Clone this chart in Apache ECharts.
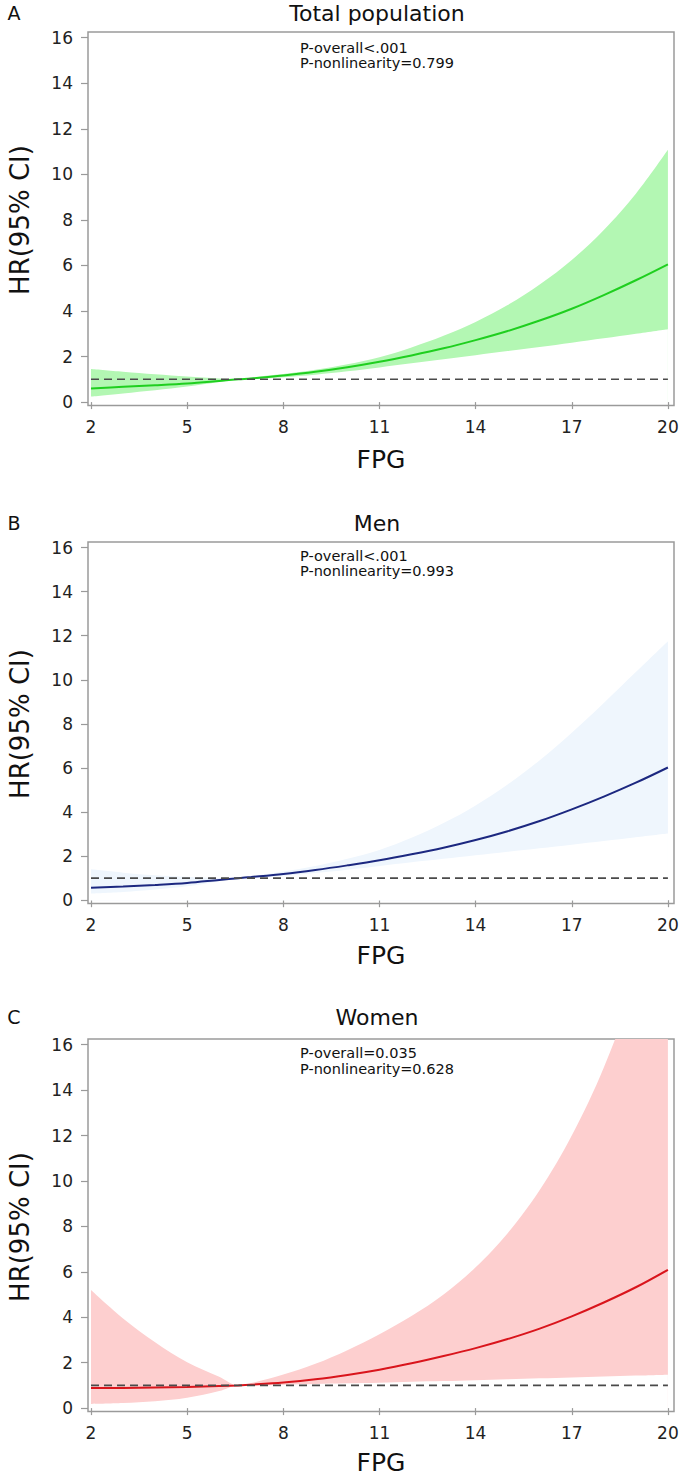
<!DOCTYPE html>
<html><head><meta charset="utf-8">
<script src="https://cdn.jsdelivr.net/npm/echarts@6/dist/echarts.min.js"></script>
<style>html,body{margin:0;padding:0;background:#fff}#c{width:685px;height:1479px}</style>
</head><body><div id="c"></div>
<script>
// ---- data ----
const fpg = [2, 3, 4, 5, 6, 6.6, 7, 8, 9, 10, 11, 12, 13, 14, 15, 16, 17, 18, 19, 20];

const hrTotal = [0.60, 0.67, 0.74, 0.82, 0.93, 1.00, 1.04, 1.17, 1.33, 1.53, 1.77, 2.05, 2.36, 2.72, 3.12, 3.58, 4.10, 4.70, 5.35, 6.05];
const loTotal = [0.24, 0.38, 0.52, 0.68, 0.88, 1.00, 1.01, 1.09, 1.20, 1.35, 1.52, 1.70, 1.88, 2.06, 2.24, 2.42, 2.61, 2.80, 3.00, 3.20];
const hiTotal = [1.45, 1.33, 1.22, 1.12, 1.04, 1.00, 1.08, 1.23, 1.42, 1.66, 1.97, 2.40, 2.91, 3.52, 4.26, 5.16, 6.24, 7.56, 9.15, 11.08];

const hrMen = [0.56, 0.62, 0.69, 0.78, 0.92, 1.00, 1.05, 1.19, 1.37, 1.58, 1.81, 2.08, 2.38, 2.73, 3.13, 3.59, 4.12, 4.70, 5.33, 6.02];
const loMen = [0.30, 0.37, 0.48, 0.63, 0.86, 1.00, 1.02, 1.10, 1.23, 1.38, 1.55, 1.72, 1.88, 2.04, 2.20, 2.36, 2.52, 2.68, 2.85, 3.02];
const hiMen = [1.40, 1.25, 1.13, 1.06, 1.00, 1.00, 1.08, 1.30, 1.55, 1.88, 2.28, 2.83, 3.50, 4.30, 5.25, 6.35, 7.60, 8.95, 10.35, 11.75];

const hrWomen = [0.88, 0.89, 0.91, 0.93, 0.97, 1.00, 1.03, 1.13, 1.27, 1.46, 1.69, 1.97, 2.29, 2.64, 3.04, 3.50, 4.04, 4.65, 5.32, 6.09];
const loWomen = [0.18, 0.22, 0.30, 0.45, 0.75, 1.00, 0.99, 1.03, 1.06, 1.09, 1.12, 1.16, 1.19, 1.23, 1.27, 1.31, 1.35, 1.39, 1.43, 1.47];
const hiWomen = [5.20, 3.95, 2.90, 2.02, 1.38, 1.00, 1.10, 1.48, 1.95, 2.55, 3.25, 4.05, 5.00, 6.20, 7.70, 9.60, 12.00, 15.00, 18.80, 23.50];

const xTicks = [2, 5, 8, 11, 14, 17, 20];
const yTicks = [0, 2, 4, 6, 8, 10, 12, 14, 16];
const refHR = 1;

const panelLetters = ['A', 'B', 'C'];
const panelTitles = ['Total population', 'Men', 'Women'];
const pOverall = ['P-overall<.001', 'P-overall<.001', 'P-overall=0.035'];
const pNonlin = ['P-nonlinearity=0.799', 'P-nonlinearity=0.993', 'P-nonlinearity=0.628'];
const xName = 'FPG';
const yName = 'HR(95% CI)';

// ---- styling / layout ----
const panelData = [
  {hr: hrTotal, lo: loTotal, hi: hiTotal, line: '#1fcf1f', band: '#b3f7b3'},
  {hr: hrMen, lo: loMen, hi: hiMen, line: '#1c2880', band: '#eff6fd'},
  {hr: hrWomen, lo: loWomen, hi: hiWomen, line: '#d9151c', band: '#fdcfcf'}
];
const layout = [
  {top: 32, height: 373.5, titleY: 13, p1: 48, p2: 63, nameY: 220, fpgY: 459},
  {top: 542, height: 361.5, titleY: 523, p1: 556, p2: 571, nameY: 724, fpgY: 955},
  {top: 1039, height: 372.5, titleY: 1017, p1: 1053, p2: 1069, nameY: 1227, fpgY: 1462}
];
const GL = 88, GR = 11;
const plotCx = GL + (685 - GL - GR) / 2;
const FONT = '"DejaVu Sans", Verdana, sans-serif';
const frameColor = '#9a9a9a';

const grids = [], xAxes = [], yAxes = [], series = [], graphics = [];
layout.forEach((L, i) => {
  const P = panelData[i];
  grids.push({left: GL, right: GR, top: L.top, height: L.height, show: true,
    borderColor: frameColor, borderWidth: 1.5, backgroundColor: 'transparent'});
  xAxes.push({gridIndex: i, type: 'value', min: 1.906, max: 20.19,
    axisLine: {show: false}, splitLine: {show: false},
    axisTick: {show: true, length: 7, customValues: xTicks, lineStyle: {color: frameColor, width: 1.2}},
    axisLabel: {customValues: xTicks, fontSize: 17, fontFamily: FONT, color: '#222', margin: 13}});
  yAxes.push({gridIndex: i, type: 'value', min: -0.15, max: 16.25,
    axisLine: {show: false}, splitLine: {show: false},
    axisTick: {show: true, length: 7, customValues: yTicks, lineStyle: {color: frameColor, width: 1.2}},
    axisLabel: {customValues: yTicks, fontSize: 17, fontFamily: FONT, color: '#222', margin: 15}});
  // upper CI edge filled down to 0 in band colour, then lower CI edge filled down to 0 in white
  series.push({type: 'line', xAxisIndex: i, yAxisIndex: i, silent: true,
    symbol: 'none', smooth: 0.35, lineStyle: {width: 0, opacity: 0},
    areaStyle: {color: P.band, opacity: 1, origin: 0},
    data: fpg.map((x, k) => [x, P.hi[k]]), z: 1});
  series.push({type: 'line', xAxisIndex: i, yAxisIndex: i, silent: true,
    symbol: 'none', smooth: 0.35, lineStyle: {width: 0, opacity: 0},
    areaStyle: {color: '#ffffff', opacity: 1, origin: 0},
    data: fpg.map((x, k) => [x, P.lo[k]]), z: 1.5});
  series.push({type: 'line', xAxisIndex: i, yAxisIndex: i, silent: true,
    symbol: 'none', smooth: 0.35, lineStyle: {width: 2, color: P.line},
    data: fpg.map((x, k) => [x, P.hr[k]]), z: 3});
  series.push({type: 'line', xAxisIndex: i, yAxisIndex: i, silent: true,
    symbol: 'none', lineStyle: {width: 1.6, color: '#4a4a4a', type: [8, 5]},
    data: [[xTicks[0], refHR], [xTicks[xTicks.length - 1], refHR]], z: 4});

  graphics.push({type: 'text', x: 14, y: L.titleY, style: {text: panelLetters[i], font: '19px ' + FONT, fill: '#111', align: 'center', verticalAlign: 'middle'}});
  graphics.push({type: 'text', x: plotCx - 4, y: L.titleY, style: {text: panelTitles[i], font: '22px ' + FONT, fill: '#111', align: 'center', verticalAlign: 'middle'}});
  graphics.push({type: 'text', x: 300, y: L.p1, style: {text: pOverall[i], font: '14.5px ' + FONT, fill: '#111', align: 'left', verticalAlign: 'middle'}});
  graphics.push({type: 'text', x: 300, y: L.p2, style: {text: pNonlin[i], font: '14.5px ' + FONT, fill: '#111', align: 'left', verticalAlign: 'middle'}});
  graphics.push({type: 'text', x: 20, y: L.nameY, rotation: Math.PI / 2, style: {text: yName, font: '26px ' + FONT, fill: '#111', align: 'center', verticalAlign: 'middle'}});
  graphics.push({type: 'text', x: plotCx, y: L.fpgY, style: {text: xName, font: '25px ' + FONT, fill: '#111', align: 'center', verticalAlign: 'middle'}});
});

const chart = echarts.init(document.getElementById('c'), null, {renderer: 'svg', width: 685, height: 1479});
chart.setOption({
  animation: false,
  backgroundColor: '#fff',
  grid: grids, xAxis: xAxes, yAxis: yAxes, series: series, graphic: graphics
});
</script>
</body></html>
